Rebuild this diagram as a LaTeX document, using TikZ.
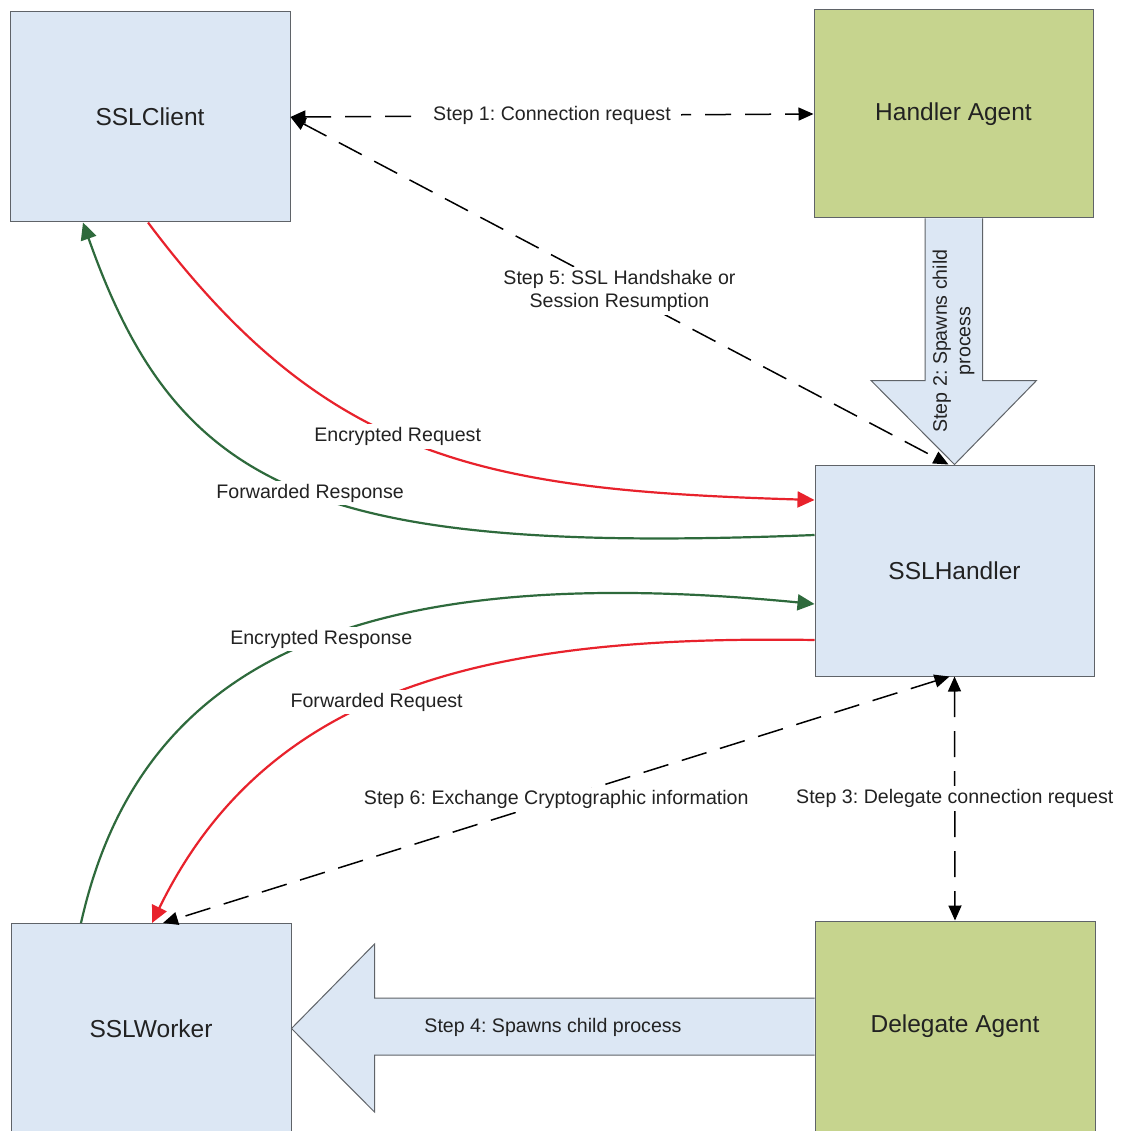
\documentclass[tikz,border=0pt]{standalone}
\usepackage{fontspec}
\setmainfont{Liberation Sans}
\usetikzlibrary{arrows.meta,calc}
\definecolor{boxblue}{HTML}{DCE7F4}
\definecolor{agentgreen}{HTML}{C6D48E}
\definecolor{edgegray}{HTML}{5F6368}
\definecolor{reqred}{HTML}{E8222C}
\definecolor{respgreen}{HTML}{2E6A3C}
\definecolor{inkgray}{HTML}{222222}
\frenchspacing

\begin{document}
\begin{tikzpicture}[x=1pt,y=-1pt,
  entity/.style={draw=edgegray, line width=1pt, minimum width=280pt, minimum height=210pt,
    inner sep=0pt, font=\fontsize{24.5}{28}\selectfont, text=inkgray},
  workerbox/.style={entity, fill=boxblue},
  agentbox/.style={entity, fill=agentgreen},
  lbl/.style={fill=white, inner xsep=10pt, inner ysep=3pt,
    font=\fontsize{19.6}{23.5}\selectfont, text=inkgray, align=center},
  dashlink/.style={draw=black, line width=1.5pt, dash pattern=on 26pt off 14pt,
    {Triangle[length=15pt,width=13pt]}-{Triangle[length=15pt,width=13pt]}},
  reqline/.style={draw=reqred, line width=2.2pt, -{Triangle[length=17pt,width=16pt]}},
  respline/.style={draw=respgreen, line width=2.2pt, -{Triangle[length=17pt,width=16pt]}},
  bigarrow/.style={fill=boxblue, draw=edgegray, line width=1pt, line join=miter},
]
% page
\fill[white] (0,0) rectangle (1122,1131);
\useasboundingbox (0,0) rectangle (1122,1131);

% components
\node[workerbox] (cl) at (150,117) {SSLClient};
\node[agentbox, minimum width=279pt, minimum height=208pt] (ha) at (953.5,114) {Handler Agent};
\node[workerbox, minimum width=279pt, minimum height=211pt] (sh) at (954.5,570.5) {SSLHandler};
\node[agentbox] (da) at (955,1026) {Delegate Agent};
\node[workerbox] (wk) at (151,1028.5) {SSLWorker};

% block arrows for spawned processes
\draw[bigarrow] ($(ha.south)+(-28.5,0)$) -- ++(0,162) -- ++(-54,0) -- (sh.north)
  -- ($(ha.south)+(83,162)$) -- ++(-54,0) -- ($(ha.south)+(29,0)$);
\node[lbl, fill=none, rotate=90] (s2) at (953.5,341) {Step 2: Spawns child\\process};

\draw[bigarrow] ($(da.west)+(0,-28)$) -- ++(-440,0) -- ++(0,-54) -- (wk.east)
  -- ($(da.west)+(-440,86)$) -- ++(0,-57) -- ($(da.west)+(0,29)$);
\node[lbl, fill=none] (s4) at (553,1027) {Step 4: Spawns child process};

% dashed control links
\draw[dashlink] (cl.east) -- node[lbl] (s1) {Step 1: Connection request} (ha.west);
\draw[dashlink] (cl.east) -- node[lbl] (s5) {Step 5: SSL Handshake or\\Session Resumption} ([xshift=-6pt]sh.north);
\draw[dashlink] (sh.south) -- node[lbl] (s3) {Step 3: Delegate connection request} (da.north);
\draw[dashlink] ([xshift=-5pt]sh.south) -- node[lbl] (s6) {Step 6: Exchange Cryptographic information} ([xshift=12pt]wk.north);

% data flows
\draw[reqline] ([xshift=-2pt]cl.south) .. controls +(180,240) and +(-330,-10) ..
  node[lbl, pos=0.455] (er) {Encrypted Request} ([yshift=70.5pt]sh.west);
\draw[respline] ([yshift=35.5pt]sh.west) .. controls +(-500,20) and +(95,270) ..
  node[lbl, pos=0.48] (fr) {Forwarded Response} ([xshift=-67pt]cl.south);
\draw[respline] ([xshift=-70pt]wk.north) .. controls +(59,-264) and +(-455,-44) ..
  node[lbl, pos=0.53] (ers) {Encrypted Response} ([yshift=-33.5pt]sh.west);
\draw[reqline] ([yshift=-69.5pt]sh.west) .. controls +(-315,-5) and +(118,-242) ..
  node[lbl, pos=0.55] (frq) {Forwarded Request} ([xshift=1pt]wk.north);
\end{tikzpicture}
\end{document}
